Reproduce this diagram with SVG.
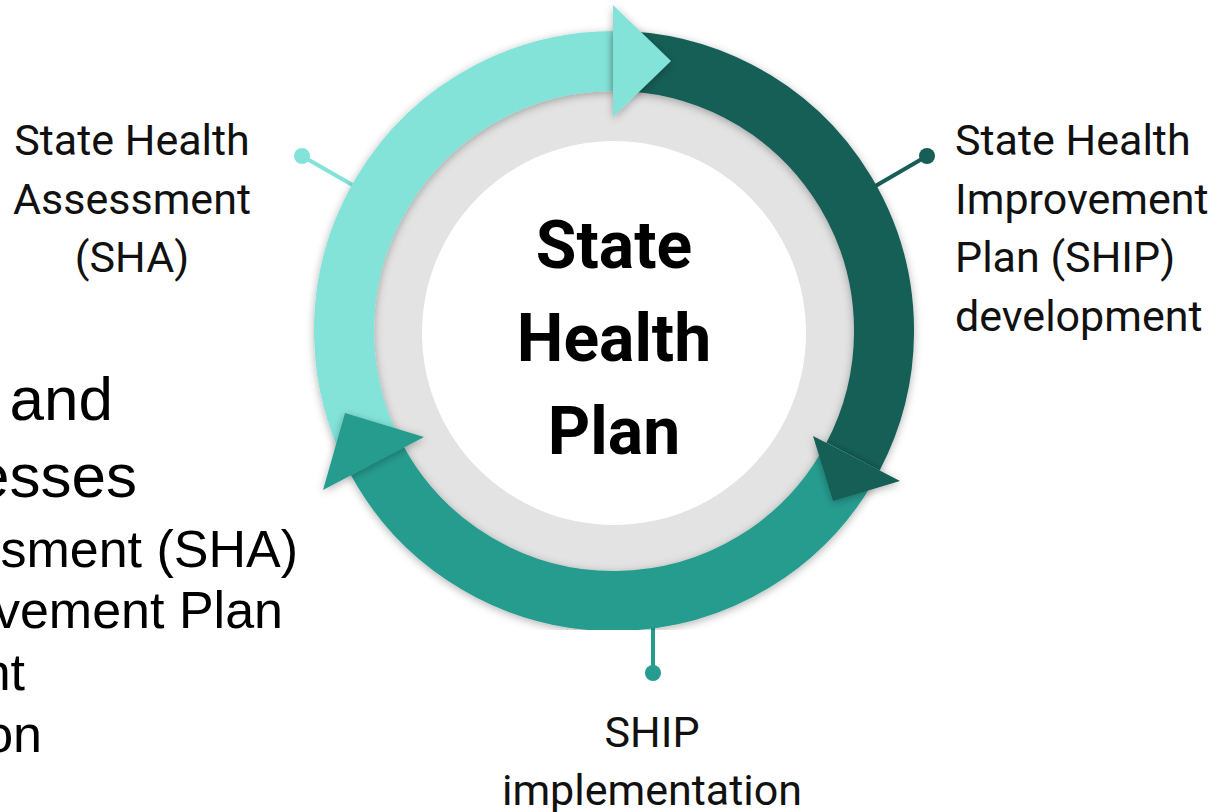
<svg xmlns="http://www.w3.org/2000/svg" width="1220" height="812" viewBox="0 0 1220 812">
<defs>
<filter id="sh" x="-20%" y="-20%" width="140%" height="140%">
<feDropShadow dx="0" dy="2" stdDeviation="4" flood-color="#000" flood-opacity="0.3"/>
</filter>
<style>
.lbl{font-family:Roboto,"Liberation Sans",sans-serif;font-size:43px;fill:#111}
.ctr{font-family:Roboto,"Liberation Sans",sans-serif;font-size:66px;font-weight:bold;fill:#000;text-anchor:middle}
.bg{font-family:"Liberation Sans",Arial,sans-serif;fill:#000;text-anchor:end}
.arc{fill:none;stroke-width:60}
.al{stroke:#84E3D9}
.ad{stroke:#175E56}
.am{stroke:#259C8F}
.hl{fill:#84E3D9}
.hd{fill:#175E56}
.hm{fill:#259C8F}
</style>
</defs>
<rect width="1220" height="812" fill="#fff"/>
<g id="background-text">
<text class="bg" x="113" y="420" font-size="62"> and</text>
<text class="bg" x="137" y="497" font-size="62">esses</text>
<text class="bg" x="298" y="567" font-size="52">sment (SHA)</text>
<text class="bg" x="283" y="628" font-size="52">vement Plan</text>
<text class="bg" x="25" y="690" font-size="52">nt</text>
<text class="bg" x="42" y="752" font-size="52">on</text>
</g>
<g id="connectors">
<line x1="302" y1="156" x2="356" y2="187" stroke="#84E3D9" stroke-width="4"/>
<circle cx="302" cy="156" r="8" fill="#84E3D9"/>
<line x1="927" y1="156" x2="872" y2="188" stroke="#175E56" stroke-width="4"/>
<circle cx="927" cy="156" r="8" fill="#175E56"/>
<line x1="653" y1="620" x2="653" y2="673" stroke="#259C8F" stroke-width="4"/>
<circle cx="653" cy="673" r="8" fill="#259C8F"/>
</g>
<g id="cycle">
<circle cx="614" cy="331" r="242" fill="#E3E3E3"/>
<circle cx="614" cy="333" r="192" fill="#fff"/>
<path class="arc al" filter="url(#sh)" d="M377.2 460.7 A270 270 0 0 1 614 61"/>
<path class="arc ad" filter="url(#sh)" d="M614 61 A270 270 0 0 1 853.1 456.5"/>
<path class="arc am" filter="url(#sh)" d="M853.1 456.5 A270 270 0 0 1 377.2 460.7"/>
<polygon class="hl" filter="url(#sh)" points="613,5 671,61 613,117"/>
<polygon class="hd" filter="url(#sh)" points="813,436 900,481 833,501"/>
<polygon class="hm" filter="url(#sh)" points="424,437 323,490 345,413"/>
</g>
<g id="center">
<text class="ctr" x="614" y="268">State</text>
<text class="ctr" x="614" y="361">Health</text>
<text class="ctr" x="614" y="454">Plan</text>
</g>
<g id="node-sha">
<text class="lbl" text-anchor="middle" x="132" y="155">State Health</text>
<text class="lbl" text-anchor="middle" x="132" y="214">Assessment</text>
<text class="lbl" text-anchor="middle" x="132" y="272">(SHA)</text>
</g>
<g id="node-ship-dev">
<text class="lbl" x="955" y="155">State Health</text>
<text class="lbl" x="955" y="214">Improvement</text>
<text class="lbl" x="955" y="272">Plan (SHIP)</text>
<text class="lbl" x="955" y="331">development</text>
</g>
<g id="node-ship-impl">
<text class="lbl" text-anchor="middle" x="652" y="747">SHIP</text>
<text class="lbl" text-anchor="middle" x="652" y="805">implementation</text>
</g>
</svg>
